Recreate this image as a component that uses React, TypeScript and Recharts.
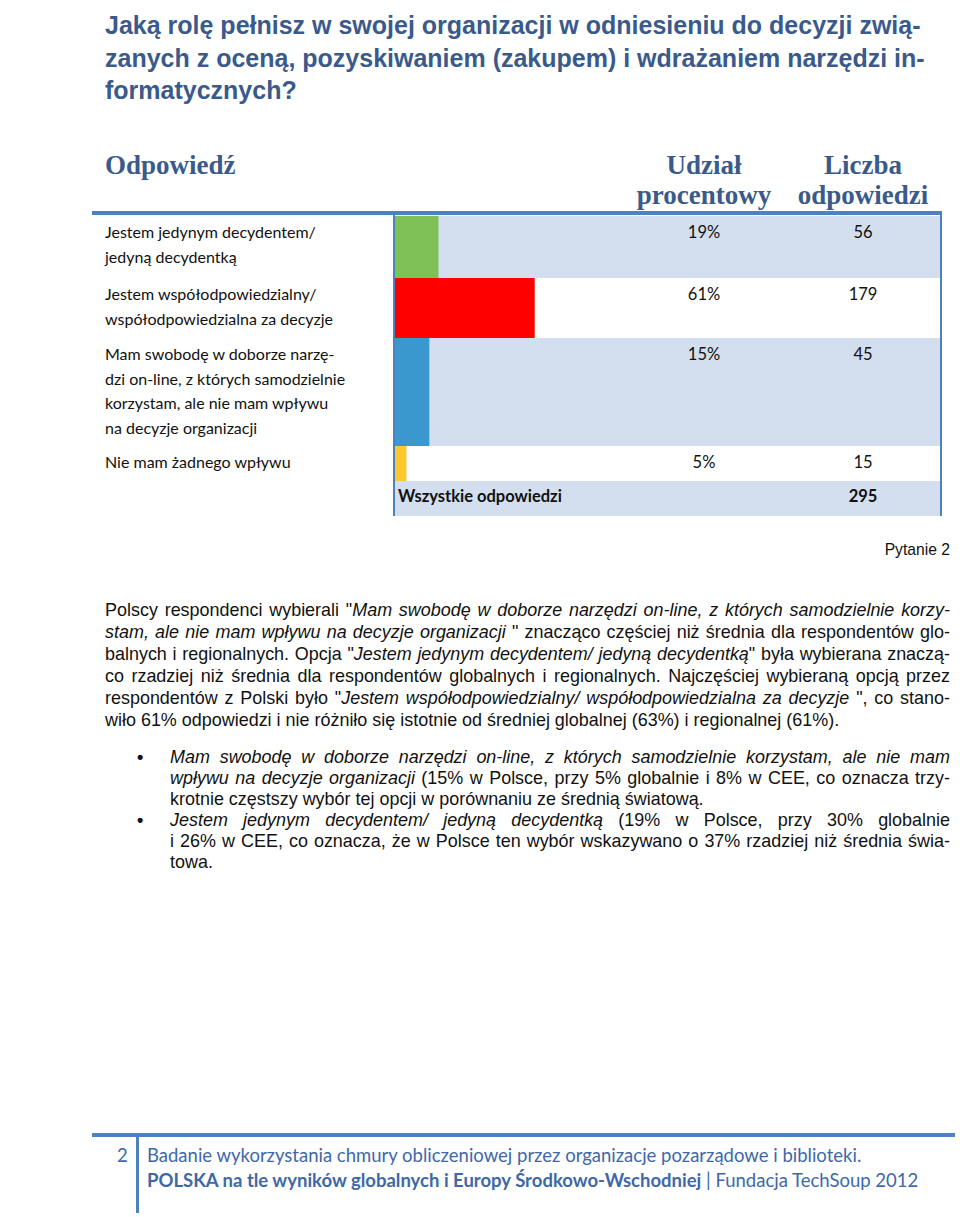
import { BarChart, Bar, XAxis, YAxis } from 'recharts';

// answers, one per row
const CATEGORIES = [
  'Jestem jedynym decydentem/\njedyną decydentką',
  'Jestem współodpowiedzialny/\nwspółodpowiedzialna za decyzje',
  'Mam swobodę w doborze narzę-\ndzi on-line, z których samodzielnie\nkorzystam, ale nie mam wpływu\nna decyzje organizacji',
  'Nie mam żadnego wpływu',
];
const SHARES = [19, 61, 15, 5];
const COUNTS = [56, 179, 45, 15];
const BAR_COLORS = ['#80c157', '#ff0000', '#3a98cf', '#fcc82e'];
const TOTAL_LABEL = 'Wszystkie odpowiedzi';
const TOTAL_COUNT = 295;

const ROW_HEIGHTS = [62, 60, 108, 35];
const TOTAL_ROW_HEIGHT = 35;

const BLUE = '#3a5a8c';
const FOOT_BLUE = '#4068a8';
const RULE = '#4f81bd';
const ROW_BG = '#d3dfee';
const ARIAL = '"Liberation Sans", Arial, sans-serif';
const CALIBRI = 'Lato, "Noto Sans", sans-serif';
const CAMBRIA = '"Liberation Serif", serif';
const SQUEEZE = 0.97;

type Seg = [string, boolean?];

const PARA: Seg[][] = [
  [['Polscy respondenci wybierali "'], ['Mam swobodę w doborze narzędzi on-line, z których samodzielnie korzy-', true]],
  [['stam, ale nie mam wpływu na decyzje organizacji ', true], ['" znacząco częściej niż średnia dla respondentów glo-']],
  [['balnych i regionalnych. Opcja "'], ['Jestem jedynym decydentem/ jedyną decydentką', true], ['" była wybierana znaczą-']],
  [['co rzadziej niż średnia dla respondentów globalnych i regionalnych. Najczęściej wybieraną opcją przez']],
  [['respondentów z Polski było "'], ['Jestem współodpowiedzialny/ współodpowiedzialna za decyzje ', true], ['", co stano-']],
  [['wiło 61% odpowiedzi i nie różniło się istotnie od średniej globalnej (63%) i regionalnej (61%).']],
];

const BULLETS: Seg[][][] = [
  [
    [['Mam swobodę w doborze narzędzi on-line, z których samodzielnie korzystam, ale nie mam', true]],
    [['wpływu na decyzje organizacji', true], [' (15% w Polsce, przy 5% globalnie i 8% w CEE, co oznacza trzy-']],
    [['krotnie częstszy wybór tej opcji w porównaniu ze średnią światową.']],
  ],
  [
    [['Jestem jedynym decydentem/ jedyną decydentką', true], [' (19% w Polsce, przy 30% globalnie']],
    [['i 26% w CEE, co oznacza, że w Polsce ten wybór wskazywano o 37% rzadziej niż średnia świa-']],
    [['towa.']],
  ],
];

function Line({ segs, last, height }: { segs: Seg[]; last: boolean; height: number }) {
  return (
    <div
      style={{
        height,
        lineHeight: `${height}px`,
        whiteSpace: 'nowrap',
        textAlign: 'justify',
        textAlignLast: last ? 'left' : 'justify',
      }}
    >
      {segs.map(([t, it], i) => (
        <span key={i} style={{ fontStyle: it ? 'italic' : 'normal', whiteSpace: 'pre-wrap' }}>{t}</span>
      ))}
    </div>
  );
}

function RowBar({ value, color, height }: { value: number; color: string; height: number }) {
  return (
    <BarChart
      width={229}
      height={height}
      data={[{ name: 'row', value }]}
      layout="vertical"
      margin={{ top: 0, right: 0, bottom: 0, left: 0 }}
      barCategoryGap={0}
    >
      <XAxis type="number" domain={[0, 100]} hide />
      <YAxis type="category" dataKey="name" hide />
      <Bar dataKey="value" fill={color} isAnimationActive={false} />
    </BarChart>
  );
}

export default function App() {
  let y = 216;
  const rows = CATEGORIES.map((cat, i) => {
    const top = y;
    y += ROW_HEIGHTS[i];
    return { cat, top, h: ROW_HEIGHTS[i], i };
  });
  const totalTop = y;
  const headStyle = { position: 'absolute' as const, top: 150, fontFamily: CAMBRIA, fontWeight: 700, fontSize: 27, lineHeight: '30px', color: BLUE };
  const cellStyle = { position: 'absolute' as const, textAlign: 'center' as const, fontFamily: CALIBRI, fontSize: 16.5, lineHeight: '20px', color: '#111' };
  const bodyStyle = { position: 'absolute' as const, fontFamily: ARIAL, fontSize: 18.5, color: '#111', transform: `scaleX(${SQUEEZE})`, transformOrigin: 'left top' };

  return (
    <div style={{ position: 'absolute', left: 0, top: 0, width: 960, height: 1217, background: '#fff', overflow: 'hidden' }}>
      {/* title */}
      <div style={{ position: 'absolute', left: 105, top: 9, fontFamily: ARIAL, fontWeight: 700, fontSize: 25, lineHeight: '32.5px', color: BLUE, whiteSpace: 'pre' }}>
        {'Jaką rolę pełnisz w swojej organizacji w odniesieniu do decyzji zwią-\nzanych z oceną, pozyskiwaniem (zakupem) i wdrażaniem narzędzi in-\nformatycznych?'}
      </div>

      {/* table header */}
      <div style={{ ...headStyle, left: 105 }}>Odpowiedź</div>
      <div style={{ ...headStyle, left: 622, width: 164, textAlign: 'center' }}>Udział<br />procentowy</div>
      <div style={{ ...headStyle, left: 786, width: 154, textAlign: 'center' }}>Liczba<br />odpowiedzi</div>
      <div style={{ position: 'absolute', left: 92, top: 211, width: 850, height: 4, background: RULE }} />

      {rows.map(({ cat, top, h, i }) => (
        <div key={i}>
          <div style={{ position: 'absolute', left: 105, top: top + 4, fontFamily: CALIBRI, fontSize: 16, lineHeight: '24.5px', color: '#111', whiteSpace: 'pre' }}>{cat}</div>
          <div style={{ position: 'absolute', left: 395, top, width: 545, height: h, background: i % 2 === 0 ? ROW_BG : '#fff' }}>
            <RowBar value={SHARES[i]} color={BAR_COLORS[i]} height={h} />
          </div>
          <div style={{ ...cellStyle, left: 622, width: 164, top: top + 6 }}>{SHARES[i]}%</div>
          <div style={{ ...cellStyle, left: 786, width: 154, top: top + 6 }}>{COUNTS[i]}</div>
        </div>
      ))}
      <div style={{ position: 'absolute', left: 395, top: totalTop, width: 545, height: TOTAL_ROW_HEIGHT, background: ROW_BG }} />
      <div style={{ ...cellStyle, textAlign: 'left', left: 398, top: totalTop + 5, fontWeight: 700 }}>{TOTAL_LABEL}</div>
      <div style={{ ...cellStyle, left: 786, width: 154, top: totalTop + 5, fontWeight: 700 }}>{TOTAL_COUNT}</div>
      <div style={{ position: 'absolute', left: 393, top: 215, width: 2, height: totalTop + TOTAL_ROW_HEIGHT - 215, background: RULE }} />
      <div style={{ position: 'absolute', left: 940, top: 215, width: 2, height: totalTop + TOTAL_ROW_HEIGHT - 215, background: RULE }} />

      <div style={{ position: 'absolute', right: 10, top: 540, fontFamily: ARIAL, fontSize: 17, lineHeight: '20px', color: '#111', transform: 'scaleX(0.92)', transformOrigin: 'right top' }}>Pytanie 2</div>

      {/* paragraph */}
      <div style={{ ...bodyStyle, left: 105, top: 599, width: 845 / SQUEEZE }}>
        {PARA.map((segs, i) => (
          <Line key={i} segs={segs} last={i === PARA.length - 1} height={22} />
        ))}
      </div>

      {/* bullets */}
      {BULLETS.map((lines, b) => (
        <div key={b} style={{ ...bodyStyle, left: 170, top: 746 + b * 63, width: 780 / SQUEEZE }}>
          <div style={{ position: 'absolute', left: -34, top: 0, lineHeight: '21px', fontWeight: 700 }}>•</div>
          {lines.map((segs, i) => (
            <Line key={i} segs={segs} last={i === lines.length - 1} height={21} />
          ))}
        </div>
      ))}

      {/* footer */}
      <div style={{ position: 'absolute', left: 92, top: 1133, width: 863, height: 4, background: RULE }} />
      <div style={{ position: 'absolute', left: 136, top: 1137, width: 3, height: 76, background: RULE }} />
      <div style={{ position: 'absolute', left: 117, top: 1143, fontFamily: CALIBRI, fontSize: 18.5, lineHeight: '25px', color: FOOT_BLUE }}>2</div>
      <div style={{ position: 'absolute', left: 147, top: 1143, fontFamily: CALIBRI, fontSize: 18.5, lineHeight: '25px', color: FOOT_BLUE, whiteSpace: 'nowrap' }}>
        Badanie wykorzystania chmury obliczeniowej przez organizacje pozarządowe i biblioteki.<br />
        <b>POLSKA na tle wyników globalnych i Europy Środkowo-Wschodniej</b> | Fundacja TechSoup 2012
      </div>
    </div>
  );
}
